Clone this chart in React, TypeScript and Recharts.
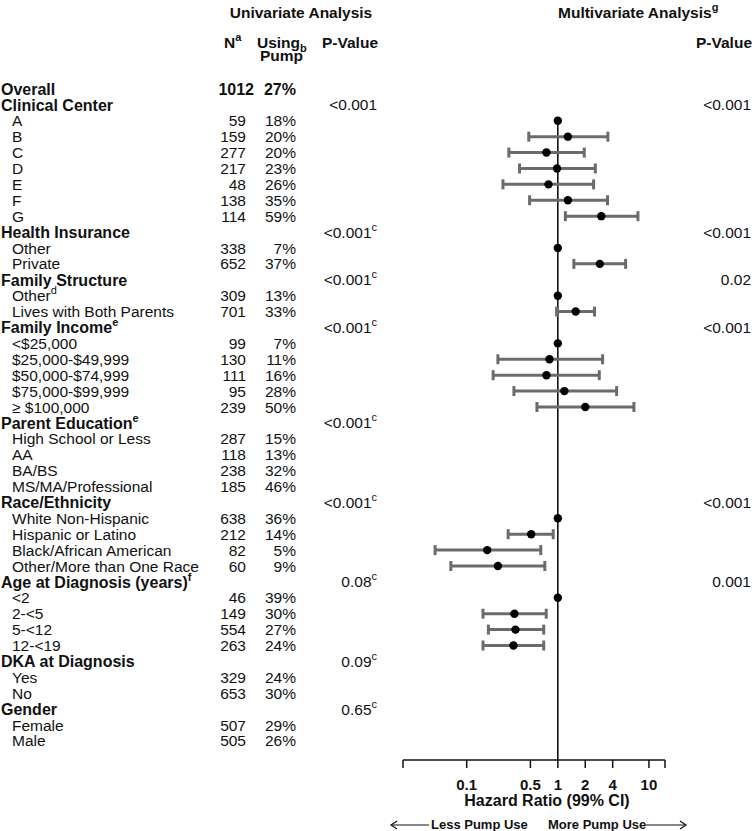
import React from 'react';
import { ScatterChart, Scatter, XAxis, YAxis, ErrorBar, ReferenceLine } from 'recharts';

const FONT = '"Liberation Sans", Arial, Helvetica, sans-serif';
const INK = '#111';

// left table, one entry per row (top to bottom)
const ROW_LABELS = [
  'Overall', 'Clinical Center', 'A', 'B', 'C', 'D', 'E', 'F', 'G',
  'Health Insurance', 'Other', 'Private',
  'Family Structure', 'Other', 'Lives with Both Parents',
  'Family Income', '<$25,000', '$25,000-$49,999', '$50,000-$74,999', '$75,000-$99,999', '\u2265 $100,000',
  'Parent Education', 'High School or Less', 'AA', 'BA/BS', 'MS/MA/Professional',
  'Race/Ethnicity', 'White Non-Hispanic', 'Hispanic or Latino', 'Black/African American', 'Other/More than One Race',
  'Age at Diagnosis (years)', '<2', '2-<5', '5-<12', '12-<19',
  'DKA at Diagnosis', 'Yes', 'No',
  'Gender', 'Female', 'Male',
];
const LABEL_NOTES: Record<number, string> = { 13: 'd', 15: 'e', 21: 'e', 31: 'f' };
const GROUP_ROWS = [0, 1, 9, 12, 15, 21, 26, 31, 36, 39];
const N_VALUES = [
  '1012', '', '59', '159', '277', '217', '48', '138', '114',
  '', '338', '652',
  '', '309', '701',
  '', '99', '130', '111', '95', '239',
  '', '287', '118', '238', '185',
  '', '638', '212', '82', '60',
  '', '46', '149', '554', '263',
  '', '329', '653',
  '', '507', '505',
];
const PUMP_PCT = [
  '27%', '', '18%', '20%', '20%', '23%', '26%', '35%', '59%',
  '', '7%', '37%',
  '', '13%', '33%',
  '', '7%', '11%', '16%', '28%', '50%',
  '', '15%', '13%', '32%', '46%',
  '', '36%', '14%', '5%', '9%',
  '', '39%', '30%', '27%', '24%',
  '', '24%', '30%',
  '', '29%', '26%',
];
const UNI_P: Record<number, string> = {
  1: '<0.001', 9: '<0.001', 12: '<0.001', 15: '<0.001', 21: '<0.001',
  26: '<0.001', 31: '0.08', 36: '0.09', 39: '0.65',
};
const UNI_P_NOTES: Record<number, string> = {
  9: 'c', 12: 'c', 15: 'c', 21: 'c', 26: 'c', 31: 'c', 36: 'c', 39: 'c',
};
const MULTI_P: Record<number, string> = {
  1: '<0.001', 9: '<0.001', 12: '0.02', 15: '<0.001', 26: '<0.001', 31: '0.001',
};

// multivariate hazard ratios
const REF_ROWS = [2, 10, 13, 16, 27, 32];
const HR_ROWS = [3, 4, 5, 6, 7, 8, 11, 14, 17, 18, 19, 20, 28, 29, 30, 33, 34, 35];
const HR_EST = [1.29, 0.75, 0.98, 0.79, 1.29, 3.0, 2.89, 1.57, 0.81, 0.75, 1.18, 2.0, 0.51, 0.168, 0.22, 0.334, 0.343, 0.326];
const HR_LOW = [0.48, 0.29, 0.38, 0.25, 0.49, 1.21, 1.5, 0.97, 0.22, 0.195, 0.33, 0.59, 0.285, 0.045, 0.067, 0.151, 0.173, 0.151];
const HR_HIGH = [3.54, 1.95, 2.58, 2.47, 3.51, 7.57, 5.55, 2.53, 3.1, 2.85, 4.42, 6.84, 0.89, 0.65, 0.72, 0.746, 0.7, 0.7];

const X_TICKS = [0.02, 0.1, 0.5, 1, 2, 4, 10, 15];
const X_TICK_LABELS = ['', '0.1', '0.5', '1', '2', '4', '10', ''];

const ROW_TICKS = ROW_LABELS.map((_, i) => i);
const refPoints = REF_ROWS.map((row) => ({ x: 1, y: row }));
const estPoints = HR_ROWS.map((row, i) => ({
  x: HR_EST[i],
  y: row,
  err: [HR_EST[i] - HR_LOW[i], HR_HIGH[i] - HR_EST[i]],
}));

const Sup = ({ t }: { t?: string }) =>
  t ? <tspan fontSize={11} dy={-7}>{t}</tspan> : null;

function renderRowTick(props: any) {
  const { y, payload } = props;
  const i = Number(payload.value);
  const group = GROUP_ROWS.includes(i);
  const size = group ? 16 : 15.5;
  const weight = group ? 'bold' : 'normal';
  return (
    <g fontFamily={FONT} fill={INK}>
      <text x={group ? 1 : 12} y={y} dy="0.36em" fontSize={size} fontWeight={weight}>
        {ROW_LABELS[i]}
        <Sup t={LABEL_NOTES[i]} />
      </text>
      {N_VALUES[i] && (
        <text x={i === 0 ? 254 : 246} y={y} dy="0.36em" textAnchor="end" fontSize={size} fontWeight={weight}>
          {N_VALUES[i]}
        </text>
      )}
      {PUMP_PCT[i] && (
        <text x={296} y={y} dy="0.36em" textAnchor="end" fontSize={size} fontWeight={weight}>
          {PUMP_PCT[i]}
        </text>
      )}
      {UNI_P[i] && (
        <text x={377} y={y} dy="0.36em" textAnchor="end" fontSize={15.5}>
          {UNI_P[i]}
          <Sup t={UNI_P_NOTES[i]} />
        </text>
      )}
      {MULTI_P[i] && (
        <text x={751} y={y} dy="0.36em" textAnchor="end" fontSize={15.5}>
          {MULTI_P[i]}
        </text>
      )}
    </g>
  );
}

const dot = (p: any) => <circle cx={p.cx} cy={p.cy} r={4.2} fill="#000" />;

function Headers() {
  return (
    <svg
      width={755}
      height={831}
      style={{ position: 'absolute', left: 0, top: 0, pointerEvents: 'none' }}
      fontFamily={FONT}
      fill={INK}
      fontWeight="bold"
      fontSize={15.5}
    >
      <text x={301} y={18} textAnchor="middle">Univariate Analysis</text>
      <text x={224} y={48}>N<Sup t="a" /></text>
      <text x={257} y={48}>Using</text>
      <text x={260} y={61}>Pump</text>
      <text x={300} y={52} fontSize={11}>b</text>
      <text x={378} y={48} textAnchor="end">P-Value</text>
      <text x={558} y={18}>Multivariate Analysis<Sup t="g" /></text>
      <text x={752} y={48} textAnchor="end">P-Value</text>

      <text x={547} y={806} textAnchor="middle" fontSize={16}>Hazard Ratio (99% CI)</text>
      <text x={431} y={829} fontSize={13}>Less Pump Use</text>
      <text x={548} y={829} fontSize={13}>More Pump Use</text>
      <g stroke={INK} strokeWidth={1.2} fill="none">
        <line x1={391} y1={825} x2={429} y2={825} />
        <polyline points="397,821 391,825 397,829" />
        <line x1={646} y1={825} x2={686} y2={825} />
        <polyline points="680,821 686,825 680,829" />
      </g>
    </svg>
  );
}

export default function App() {
  return (
    <div style={{ position: 'absolute', left: 0, top: 0, width: 755, height: 831, background: '#fff' }}>
      <ScatterChart width={755} height={831} margin={{ top: 81, right: 90, bottom: 41, left: 0 }}>
        <XAxis
          type="number"
          dataKey="x"
          scale="log"
          domain={[0.02, 15]}
          ticks={X_TICKS}
          interval={0}
          allowDataOverflow
          tickFormatter={(v: number) => X_TICK_LABELS[X_TICKS.indexOf(v)] ?? ''}
          tick={{ fontSize: 15, fontWeight: 'bold', fill: INK, fontFamily: FONT }}
          tickSize={8}
          tickMargin={11}
          axisLine={{ stroke: INK, strokeWidth: 1.5 }}
          tickLine={{ stroke: INK, strokeWidth: 1.5 }}
          height={30}
        />
        <YAxis
          type="number"
          dataKey="y"
          domain={[-0.5, 42.2]}
          reversed
          ticks={ROW_TICKS}
          interval={0}
          allowDataOverflow
          width={403}
          axisLine={false}
          tickLine={false}
          tick={renderRowTick}
        />
        <ReferenceLine
          segment={[{ x: 1, y: 2 }, { x: 1, y: 42.2 }]}
          stroke="#000"
          strokeWidth={1.5}
          ifOverflow="visible"
        />
        <Scatter data={estPoints} isAnimationActive={false} shape={dot}>
          <ErrorBar dataKey="err" direction="x" width={5} stroke="#6b6b6b" strokeWidth={3} />
        </Scatter>
        <Scatter data={refPoints} isAnimationActive={false} shape={dot} />
      </ScatterChart>
      <Headers />
    </div>
  );
}
